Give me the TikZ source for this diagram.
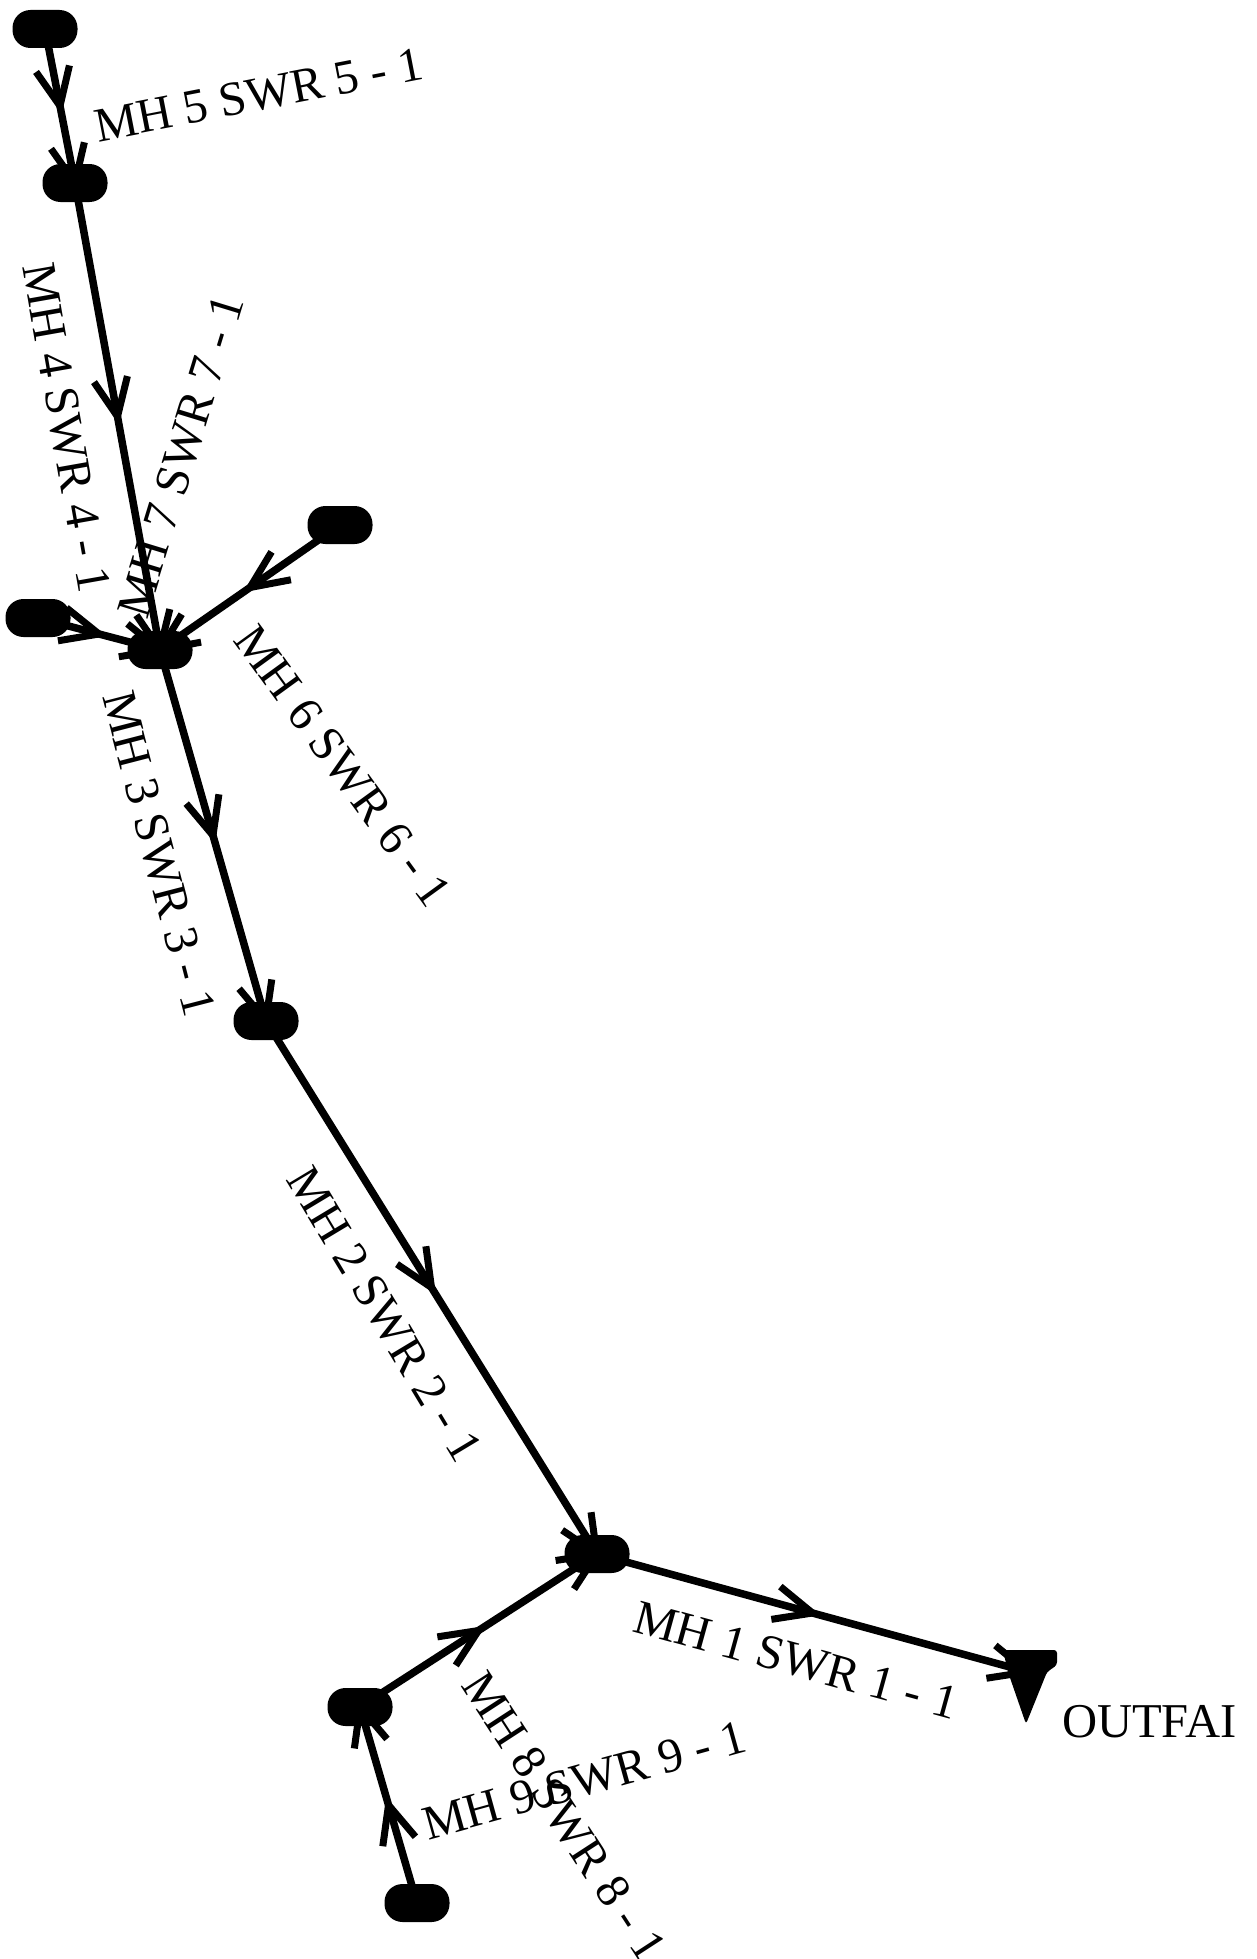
\documentclass[tikz,border=0pt]{standalone}
\usepackage{fontspec}
\setmainfont{Liberation Serif}
\usetikzlibrary{decorations.markings}
\tikzset{
  barbtip/.style={decoration={markings,
    mark=at position 0.5 with {\draw[line width=7pt,line cap=butt,miter limit=10] (-38pt,17pt) -- (0pt,0pt) -- (-38pt,-17pt);},
    mark=at position 0.999 with {\draw[line width=7pt,line cap=butt,miter limit=10] (-38pt,17pt) -- (0pt,0pt) -- (-38pt,-17pt);}},
    postaction={decorate}},
  pipe/.style={draw=black,line width=7.5pt,barbtip},
  mh/.style={rectangle,rounded corners=18pt,fill=black,inner sep=0pt,minimum width=65pt,minimum height=38pt},
  lab/.style={anchor=base west,inner sep=0pt,outer sep=0pt,text=black,font=\fontsize{48.6}{50}\selectfont},
}
\begin{document}
\begin{tikzpicture}[x=1pt,y=-1pt]
\useasboundingbox (0,0) rectangle (1257,1959);
\fill[white] (0,0) rectangle (1257,1959);
\clip (0,0) rectangle (1257,1959);
\node[mh] (n5t) at (45,29) {};
\node[mh] (n4) at (75,183) {};
\node[mh] (n3) at (160,650) {};
\node[mh] (n6) at (340,525) {};
\node[mh] (n7) at (38,618) {};
\node[mh] (n2) at (266,1021) {};
\node[mh] (n1) at (597,1554) {};
\node[mh] (n8) at (360,1707) {};
\node[mh] (n9) at (417,1903) {};
\node[inner sep=0pt,minimum size=4pt] (out) at (1028,1672) {};
\fill[rounded corners=3pt] (1003,1650) -- (1057,1650) -- (1057,1665) -- (1047,1672) -- (1026,1724) -- (1008,1672) -- cycle;
\draw[pipe] (n5t.center) -- (n4.center);
\draw[pipe] (n4.center) -- (n3.center);
\draw[pipe] (n6.center) -- (n3.center);
\draw[pipe] (n7.center) -- (n3.center);
\draw[pipe] (n3.center) -- (n2.center);
\draw[pipe] (n2.center) -- (n1.center);
\draw[pipe] (n1.center) -- (out.center);
\draw[pipe] (n8.center) -- (n1.center);
\draw[pipe] (n9.center) -- (n8.center);
\node[lab,rotate=11] (l5) at (98,142) {MH 5 SWR 5 - 1};
\node[lab,rotate=-80] (l4) at (22,266) {MH 4 SWR 4 - 1};
\node[lab,rotate=73] (l7) at (147,620) {MH 7 SWR 7 - 1};
\node[lab,rotate=-54] (l6) at (232,640) {MH 6 SWR 6 - 1};
\node[lab,rotate=-75.5] (l3) at (102,696) {MH 3 SWR 3 - 1};
\node[lab,rotate=-59] (l2) at (285,1179) {MH 2 SWR 2 - 1};
\node[lab,rotate=-15.4] (l1) at (631,1631) {MH 1 SWR 1 - 1};
\node[lab,rotate=-57] (l8) at (460,1685) {MH 8 SWR 8 - 1};
\node[lab,rotate=15.5] (l9) at (428,1840) {MH 9 SWR 9 - 1};
\node[lab] (lo) at (1062,1737) {OUTFAI};
\end{tikzpicture}
\end{document}
